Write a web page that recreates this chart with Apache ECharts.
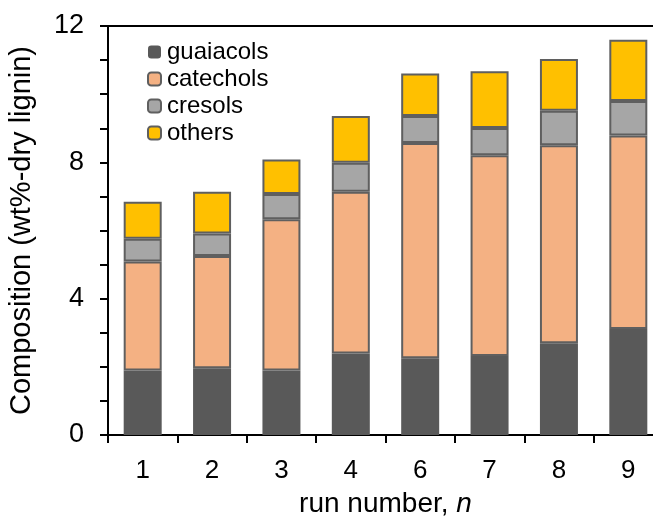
<!DOCTYPE html>
<html>
<head>
<meta charset="utf-8">
<script src="https://cdn.jsdelivr.net/npm/echarts@6/dist/echarts.min.js"></script>
<style>
  html, body { margin: 0; padding: 0; background: #fff; }
  #chart { width: 653px; height: 518px; }
</style>
</head>
<body>
<div id="chart"></div>
<script>
const runs = ["1", "2", "3", "4", "6", "7", "8", "9"];
const guaiacols = [1.89, 1.96, 1.89, 2.39, 2.25, 2.32, 2.69, 3.11];
const catechols = [3.20, 3.29, 4.44, 4.75, 6.32, 5.89, 5.81, 5.68];
const cresols = [0.67, 0.66, 0.74, 0.85, 0.79, 0.80, 1.01, 1.01];
const others = [1.08, 1.23, 1.01, 1.37, 1.25, 1.66, 1.52, 1.80];

const font = "Liberation Sans";
const edge = "#5f5f5f";

const chart = echarts.init(document.getElementById("chart"));

function bar(name, data, color, border) {
  return {
    name: name,
    type: "bar",
    stack: "total",
    data: data,
    barWidth: 38,
    itemStyle: {
      color: color,
      borderColor: border ? edge : color,
      borderWidth: border ? 2 : 0
    }
  };
}

const option = {
  animation: false,
  backgroundColor: "#fff",
  grid: {
    left: 108,
    top: 26,
    right: -10,
    bottom: 83,
    outerBoundsMode: "none",
    containLabel: false,
    show: true,
    borderColor: "#000",
    borderWidth: 2
  },
  legend: {
    orient: "vertical",
    left: 147,
    top: 40,
    padding: 0,
    itemWidth: 13,
    itemHeight: 13,
    itemGap: 3,
    selectedMode: false,
    textStyle: { fontFamily: font, fontSize: 24, color: "#000", padding: [0, 0, 0, 1] },
    data: ["guaiacols", "catechols", "cresols", "others"]
  },
  xAxis: {
    type: "category",
    data: runs,
    name: "{a|run number, }{b|n}",
    nameLocation: "middle",
    nameGap: 55,
    nameTextStyle: {
      rich: {
        a: { fontFamily: font, fontSize: 28, color: "#000" },
        b: { fontFamily: font, fontSize: 28, color: "#000", fontStyle: "italic" }
      }
    },
    axisLine: { lineStyle: { color: "#000", width: 2 } },
    axisTick: { show: true, length: 8, alignWithLabel: false, lineStyle: { color: "#000", width: 2 } },
    axisLabel: { fontFamily: font, fontSize: 26, color: "#000", margin: 23 }
  },
  yAxis: {
    type: "value",
    min: 0,
    max: 12,
    interval: 1,
    name: "Composition (wt%-dry lignin)",
    nameLocation: "middle",
    nameGap: 72,
    nameTextStyle: { fontFamily: font, fontSize: 29, color: "#000" },
    axisLine: { show: true, lineStyle: { color: "#000", width: 2 } },
    axisTick: { show: true, length: 8, lineStyle: { color: "#000", width: 2 } },
    axisLabel: {
      fontFamily: font,
      fontSize: 27,
      color: "#000",
      margin: 24,
      formatter: function (v) { return v % 4 === 0 ? String(v) : ""; }
    },
    splitLine: { show: false }
  },
  series: [
    bar("guaiacols", guaiacols, "#595959", false),
    bar("catechols", catechols, "#f4b183", true),
    bar("cresols", cresols, "#a6a6a6", true),
    bar("others", others, "#ffc000", true)
  ]
};

chart.setOption(option);
</script>
</body>
</html>
